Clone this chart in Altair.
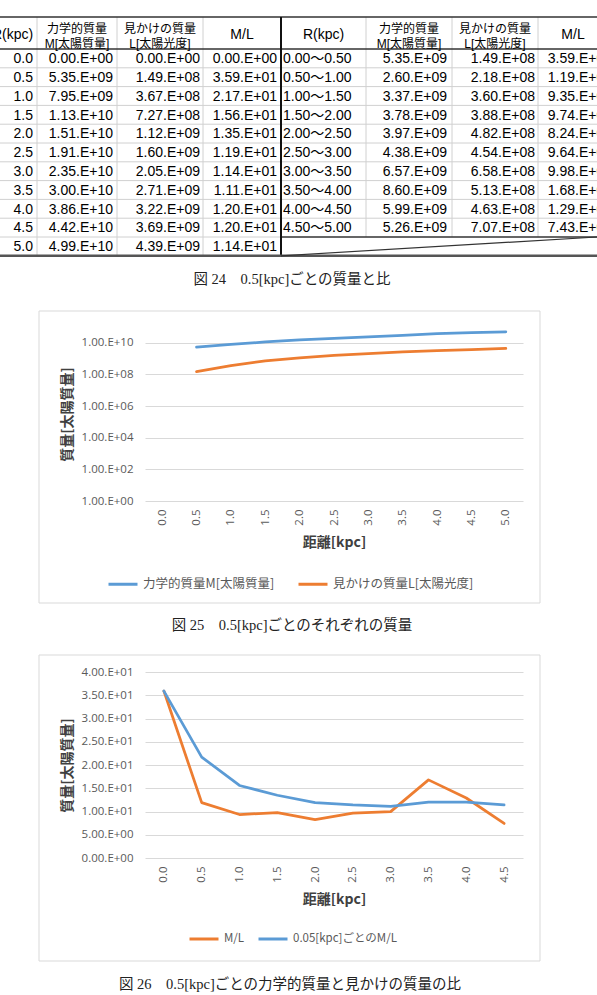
import altair as alt
import pandas as pd

# ---------------- data ----------------
r_labels = ["0.0", "0.5", "1.0", "1.5", "2.0", "2.5", "3.0", "3.5", "4.0", "4.5", "5.0"]
mass_dyn = [0.0, 5.35e9, 7.95e9, 1.13e10, 1.51e10, 1.91e10, 2.35e10, 3.00e10, 3.86e10, 4.42e10, 4.99e10]
mass_lum = [0.0, 1.49e8, 3.67e8, 7.27e8, 1.12e9, 1.60e9, 2.05e9, 2.71e9, 3.22e9, 3.69e9, 4.39e9]
ml_cum = [0.0, 3.59e1, 2.17e1, 1.56e1, 1.35e1, 1.19e1, 1.14e1, 1.11e1, 1.20e1, 1.20e1, 1.14e1]

shell_labels = ["0.00〜0.50", "0.50〜1.00", "1.00〜1.50", "1.50〜2.00", "2.00〜2.50",
                "2.50〜3.00", "3.00〜3.50", "3.50〜4.00", "4.00〜4.50", "4.50〜5.00"]
shell_dyn = [5.35e9, 2.60e9, 3.37e9, 3.78e9, 3.97e9, 4.38e9, 6.57e9, 8.60e9, 5.99e9, 5.26e9]
shell_lum = [1.49e8, 2.18e8, 3.60e8, 3.88e8, 4.82e8, 4.54e8, 6.58e8, 5.13e8, 4.63e8, 7.07e8]
shell_ml = [3.59e1, 1.19e1, 9.35e0, 9.74e0, 8.24e0, 9.64e0, 9.98e0, 1.68e1, 1.29e1, 7.43e0]

header_top = ["R(kpc)", "力学的質量", "見かけの質量", "M/L", "R(kpc)", "力学的質量", "見かけの質量", "M/L"]
header_bot = ["", "M[太陽質量]", "L[太陽光度]", "", "", "M[太陽質量]", "L[太陽光度]", ""]

S_DYN = "力学的質量M[太陽質量]"
S_LUM = "見かけの質量L[太陽光度]"
S_ML = "M/L"
S_ML2 = "0.05[kpc]ごとのM/L"

CAP24 = "図 24　0.5[kpc]ごとの質量と比"
CAP25 = "図 25　0.5[kpc]ごとのそれぞれの質量"
CAP26 = "図 26　0.5[kpc]ごとの力学的質量と見かけの質量の比"

# ---------------- styles / layout ----------------
BLUE = "#5B9BD5"
ORANGE = "#ED7D31"
GRID = "#d9d9d9"
LBL = "#595959"
TTL = "#404040"
CJK = "Noto Sans CJK JP"
TBL_FONT = "Liberation Sans, Noto Sans CJK JP"
LAB_FONT = "Open Sans, Noto Sans CJK JP"
SERIF = "Liberation Serif, Noto Sans CJK JP"

W = 597
PLOT_L, PLOT_R = 145, 523
TOP = 17
HEAD_BOT = 49
ROW_H = 18.8
LEFT_BOT = HEAD_BOT + ROW_H * 11
RIGHT_BOT = HEAD_BOT + ROW_H * 10
col_anchor = [33, 113, 200, 277, 283, 447, 535, 612]
head_center = [12.5, 77, 160, 242, 323.5, 409, 495, 573]


def sci(v):
    return f"{v:.2e}".replace("e", ".E")


def row_y(i):
    return HEAD_BOT + ROW_H * (i + 0.5) + 0.8


XS = alt.Scale(domain=[0, W], nice=False, zero=False)
YS = alt.Scale(domain=[0, 300], nice=False, zero=False, reverse=True)

# ---- table rules ----
rules = []


def rule(x, x2, y, y2, c, w):
    rules.append(dict(x=x, x2=x2, y=y, y2=y2, c=c, w=w))


LIGHT = "#d0d0d0"
DARK = "#333333"
for k in range(1, 11):
    yy = HEAD_BOT + ROW_H * k
    rule(0, 281, yy, yy, LIGHT, 1)
for k in range(1, 10):
    yy = HEAD_BOT + ROW_H * k
    rule(281, W, yy, yy, LIGHT, 1)
for xv in [37, 117, 203]:
    rule(xv, xv, TOP, LEFT_BOT, LIGHT, 1)
for xv in [366, 452, 538]:
    rule(xv, xv, TOP, RIGHT_BOT, LIGHT, 1)
rule(0, W, TOP, TOP, DARK, 1.6)
rule(0, W, HEAD_BOT, HEAD_BOT, DARK, 1.5)
rule(281, W, RIGHT_BOT, RIGHT_BOT, DARK, 1.5)
rule(281, 281, TOP, LEFT_BOT, "#111111", 2)
rule(0, W, LEFT_BOT, LEFT_BOT, "#555555", 2.5)
rule(281, W, LEFT_BOT, RIGHT_BOT, DARK, 1.2)
rules_df = pd.DataFrame(rules)

# ---- table cells ----
cells_r = []
for i in range(11):
    y = row_y(i)
    cells_r += [dict(x=col_anchor[0], y=y, t=r_labels[i]),
                dict(x=col_anchor[1], y=y, t=sci(mass_dyn[i])),
                dict(x=col_anchor[2], y=y, t=sci(mass_lum[i])),
                dict(x=col_anchor[3], y=y, t=sci(ml_cum[i]))]
for i in range(10):
    y = row_y(i)
    cells_r += [dict(x=col_anchor[5], y=y, t=sci(shell_dyn[i])),
                dict(x=col_anchor[6], y=y, t=sci(shell_lum[i])),
                dict(x=col_anchor[7], y=y, t=sci(shell_ml[i]))]
cells_l = [dict(x=col_anchor[4], y=row_y(i), t=shell_labels[i]) for i in range(10)]
heads = []
for j in range(8):
    if header_bot[j]:
        heads.append(dict(x=head_center[j], y=28.5, t=header_top[j], fs=12))
        heads.append(dict(x=head_center[j], y=43.5, t=header_bot[j], fs=12))
    else:
        heads.append(dict(x=head_center[j], y=35, t=header_top[j], fs=14))

t_rules = alt.Chart(rules_df).mark_rule(clip=True).encode(
    x=alt.X("x:Q", scale=XS, axis=None), x2="x2:Q",
    y=alt.Y("y:Q", scale=YS, axis=None), y2="y2:Q",
    color=alt.Color("c:N", scale=None),
    strokeWidth=alt.StrokeWidth("w:Q", scale=None),
)
t_right = alt.Chart(pd.DataFrame(cells_r)).mark_text(
    clip=True, align="right", baseline="middle", font=TBL_FONT, fontSize=14, color="#000000"
).encode(x=alt.X("x:Q", scale=XS, axis=None), y=alt.Y("y:Q", scale=YS, axis=None), text="t:N")
t_left = alt.Chart(pd.DataFrame(cells_l)).mark_text(
    clip=True, align="left", baseline="middle", font=TBL_FONT, fontSize=14, color="#000000"
).encode(x=alt.X("x:Q", scale=XS, axis=None), y=alt.Y("y:Q", scale=YS, axis=None), text="t:N")
t_head = alt.Chart(pd.DataFrame(heads)).mark_text(
    clip=True, align="center", baseline="middle", font=TBL_FONT, color="#000000"
).encode(x=alt.X("x:Q", scale=XS, axis=None), y=alt.Y("y:Q", scale=YS, axis=None), text="t:N",
         size=alt.Size("fs:Q", scale=None))
one = pd.DataFrame({"k": [0]})
t_cap = alt.Chart(one).mark_text(
    text=CAP24, font=SERIF, fontSize=14.5, color="#222222", align="center", baseline="middle"
).encode(x=alt.value(292), y=alt.value(280))

table = alt.layer(t_rules, t_right, t_left, t_head, t_cap).properties(width=W, height=300)


# ---------------- charts ----------------
def panel(df, x_domain, y_scale, y_axis, color_dom, color_rng, legend_xy, col_pad, leg_fs, plot_h,
          panel_top, panel_h, frame_y, caption, cap_xy, filt=None):
    bg = alt.Chart(one).mark_rect(color="white", opacity=0).encode(
        x=alt.value(0), x2=alt.value(W), y=alt.value(panel_top), y2=alt.value(panel_top + panel_h))
    frame = alt.Chart(one).mark_rect(fillOpacity=0, fill="white", stroke=GRID, strokeWidth=1).encode(
        x=alt.value(39), x2=alt.value(540), y=alt.value(frame_y[0]), y2=alt.value(frame_y[1]))
    base = alt.Chart(df)
    if filt:
        base = base.transform_filter(filt)
    lines = base.mark_line(strokeWidth=2.75, strokeCap="round", strokeJoin="round").encode(
        x=alt.X("r:N", sort=x_domain,
                scale=alt.Scale(type="point", domain=x_domain, padding=0.5, range=[PLOT_L, PLOT_R]),
                axis=alt.Axis(labelAngle=270, labelPadding=8, domain=False, ticks=False, grid=False,
                              labelFont=LAB_FONT, labelFontSize=11.5, labelColor=LBL, labelOverlap=False,
                              title="距離[kpc]", titleFont=CJK, titleFontSize=14, titleFontWeight="bold",
                              titleColor=TTL, titleX=(PLOT_L + PLOT_R) / 2, titleY=41,
                              titleBaseline="middle", titleAlign="center")),
        y=alt.Y("v:Q", scale=y_scale, axis=y_axis),
        color=alt.Color("s:N", scale=alt.Scale(domain=color_dom, range=color_rng),
                        legend=alt.Legend(orient="none", legendX=legend_xy[0], legendY=legend_xy[1],
                                          direction="horizontal", title=None, symbolType="stroke",
                                          symbolStrokeWidth=3, symbolSize=841, labelFont=CJK,
                                          labelFontSize=leg_fs, labelColor=LBL, columnPadding=col_pad,
                                          labelOffset=4, padding=0)),
        order=alt.Order("o:Q"),
    )
    cap = alt.Chart(one).mark_text(
        text=caption, font=SERIF, fontSize=14.5, color="#222222", align="center", baseline="middle"
    ).encode(x=alt.value(cap_xy[0]), y=alt.value(cap_xy[1]))
    return alt.layer(bg, frame, lines, cap).properties(width=W, height=plot_h)


def y_axis(values, expr, plot_h):
    return alt.Axis(values=values, labelExpr=expr, grid=True, gridColor=GRID, gridWidth=1, domain=False,
                    ticks=False, offset=-PLOT_L, labelPadding=12, labelFont=LAB_FONT, labelFontSize=11.5,
                    labelColor=LBL, labelOverlap=False, title="質量[太陽質量]", titleFont=CJK,
                    titleFontSize=14, titleFontWeight="bold", titleColor=TTL, titleAngle=270,
                    titleX=-78, titleY=plot_h / 2, titleBaseline="middle", titleAlign="center")


# chart 1 (log)
df1 = pd.DataFrame({
    "r": r_labels + r_labels,
    "v": mass_dyn + mass_lum,
    "s": [S_DYN] * len(r_labels) + [S_LUM] * len(r_labels),
    "o": list(range(len(r_labels))) * 2,
})
expr1 = "'1.00.E+' + (round(log(datum.value) / LN10) < 10 ? '0' : '') + round(log(datum.value) / LN10)"
chart1 = panel(
    df1, r_labels,
    alt.Scale(type="log", domain=[1, 1e11], nice=False),
    y_axis([1, 1e2, 1e4, 1e6, 1e8, 1e10], expr1, 174),
    [S_DYN, S_LUM], [BLUE, ORANGE], (107, 241), 17, 12.5, 174, -27, 340, (-16, 276), CAP25, (292, 299),
    filt="datum.v > 0",
)

# chart 2 (M/L)
x2_labels = r_labels[:10]
ml_step = ml_cum[1:]
df2 = pd.DataFrame({
    "r": x2_labels + x2_labels,
    "v": shell_ml + ml_step,
    "s": [S_ML] * 10 + [S_ML2] * 10,
    "o": list(range(10)) * 2,
})
expr2 = ("datum.value == 0 ? '0.00.E+00' : (datum.value < 10 ? format(datum.value, '.2f') + '.E+00' "
         ": format(datum.value / 10, '.2f') + '.E+01')")
chart2 = panel(
    df2, x2_labels,
    alt.Scale(domain=[0, 40], nice=False, zero=True),
    y_axis([0, 5, 10, 15, 20, 25, 30, 35, 40], expr2, 186),
    [S_ML, S_ML2], [ORANGE, BLUE], (188, 251), 7, 11.5, 186, -32, 355, (-17, 289), CAP26, (290, 313),
)

chart = alt.vconcat(table, chart1, chart2, spacing=0).resolve_scale(
    color="independent", x="independent", y="independent"
).resolve_legend(color="independent").properties(
    padding=0, background="white"
).configure_view(stroke=None)

chart.save("out.html", embed_options={"renderer": "svg", "actions": False})
